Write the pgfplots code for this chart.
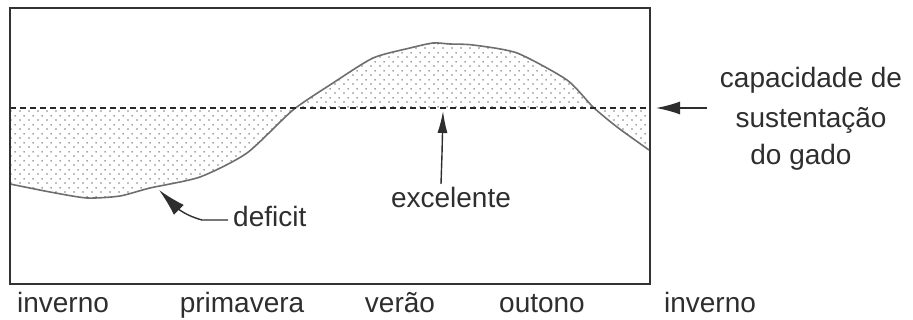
\documentclass[border=0pt]{standalone}
\usepackage{pgfplots}
\pgfplotsset{compat=1.18}
\usepgfplotslibrary{fillbetween}
\usetikzlibrary{arrows.meta,patterns.meta}
\usepackage{fontspec}
\setmainfont{Liberation Sans}
\definecolor{ink}{HTML}{2E2E2E}
\definecolor{curvec}{HTML}{6E6E6E}
\tikzdeclarepattern{
  name=mydots, type=uncolored,
  bounding box={(0,0) and (9pt,9pt)},
  tile size={(9pt,9pt)},
  code={
    \fill (2.25pt,2.25pt) circle (0.95pt);
    \fill (6.75pt,6.75pt) circle (0.95pt);
  }
}
\newcommand\lf{\fontsize{28}{34}\selectfont}
\begin{document}
\begin{tikzpicture}
\begin{axis}[
  name=ax,
  x=1pt, y=1pt,
  xmin=0, xmax=640, ymin=0, ymax=276,
  ticks=none,
  clip=false,
  axis on top,
  axis line style={line width=2.2pt, color=black!80},
]
\addplot[name path=curve, color=curvec, line width=1.6pt, smooth, tension=0.4] coordinates {
  (0,100) (40,92) (77,86) (110,88) (140,96) (190,107) (237,131) (283,174)
  (323,201) (363,226) (400,236) (423,241) (440,240) (463,239) (507,231)
  (557,204) (583,177) (607,157) (639,134)
};
\addplot[name path=cap, color=black!85, line width=1.3pt, dash pattern=on 6pt off 4pt] coordinates {(0,176) (640,176)};
\addplot[pattern=mydots, pattern color=black!50, draw=none] fill between[of=curve and cap];

% annotations
\draw[ink, line width=1.4pt, -{Latex[length=24pt,width=13pt]}] (axis cs:697,176) -- (axis cs:646,176);
\draw[ink, line width=1.4pt, -{Latex[length=22pt,width=10pt]}] (axis cs:431,100) -- (axis cs:432,130) -- (axis cs:433,173);
\draw[ink, line width=1.4pt, -{Latex[length=28pt,width=14pt]}] (axis cs:218,64) -- (axis cs:192,64) to[out=165,in=-45] (axis cs:149,94);

\node[ink, font=\lf, anchor=base] at (axis cs:53,-29) {inverno};
\node[ink, font=\lf, anchor=base] at (axis cs:232,-29) {primavera};
\node[ink, font=\lf, anchor=base] at (axis cs:390,-29) {verão};
\node[ink, font=\lf, anchor=base] at (axis cs:532,-29) {outono};
\node[ink, font=\lf, anchor=base] at (axis cs:700,-29) {inverno};
\node[ink, font=\lf, anchor=base] at (axis cs:441,76) {excelente};
\node[ink, font=\lf, anchor=base west, inner sep=0pt] at (axis cs:223,57) {deficit};
\node[ink, font=\lf, anchor=base] at (axis cs:801,196) {capacidade de};
\node[ink, font=\lf, anchor=base] at (axis cs:801,156) {sustentação};
\node[ink, font=\lf, anchor=base] at (axis cs:791,119) {do gado};
\end{axis}
\pgfresetboundingbox
\path (ax.south west) ++(-10pt,-36pt) rectangle ++(913pt,320pt);
\end{tikzpicture}
\end{document}
